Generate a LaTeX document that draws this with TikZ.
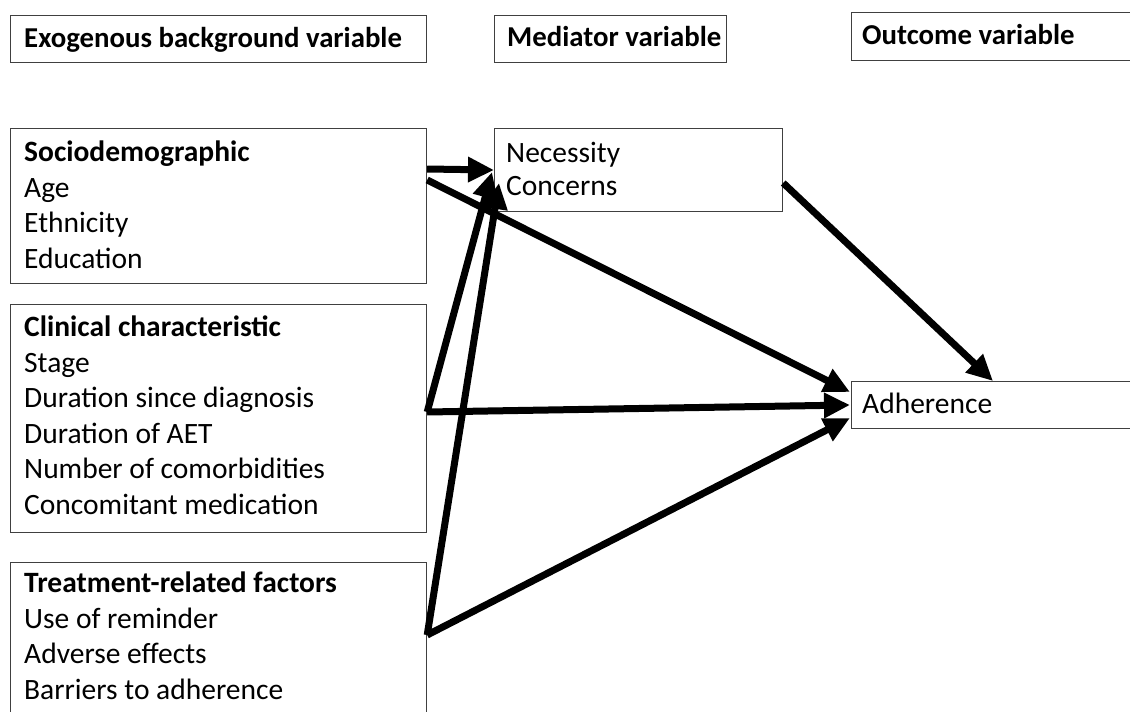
\documentclass[tikz,border=0pt]{standalone}
\usepackage{fontspec}
\setmainfont{Carlito}
\usetikzlibrary{arrows.meta}
\begin{document}
\begin{tikzpicture}[x=1pt,y=-1pt,
  box/.style={draw=black!75, line width=1.2pt, anchor=north west, inner sep=0pt},
  txt/.style={anchor=base west, inner sep=0pt, align=left, font=\fontsize{29.5}{35.5}\selectfont},
  btxt/.style={txt, font=\fontsize{28.8}{35.5}\selectfont\bfseries},
  arr/.style={line width=7pt, -{Triangle[length=26pt,width=24pt]}}]
\useasboundingbox (0,0) rectangle (1130,712);
\clip (0,0) rectangle (1130,712);
% header boxes
\node[box, minimum width=416pt, minimum height=47pt] (h1) at (10,15) {};
\node[box, minimum width=232pt, minimum height=47pt] (h2) at (494,15) {};
\node[box, minimum width=300pt, minimum height=48pt] (h3) at (851,12) {};
\node[btxt] (h1t) at (24,47) {Exogenous background variable};
\node[btxt] (h2t) at (507,46) {Mediator variable};
\node[btxt] (h3t) at (862,44) {Outcome variable};
% left boxes
\node[box, minimum width=416pt, minimum height=155pt] (socio) at (10,128) {};
\node[box, minimum width=416pt, minimum height=228pt] (clin) at (10,304) {};
\node[box, minimum width=416pt, minimum height=170pt] (treat) at (10,562) {};
\node[txt] (sociot) at (24,268) {\textbf{Sociodemographic}\\Age\\Ethnicity\\Education};
\node[txt] (clint) at (24,514) {\textbf{Clinical characteristic}\\Stage\\Duration since diagnosis\\Duration of AET\\Number of comorbidities\\Concomitant medication};
\node[txt] (treatt) at (24,699) {\textbf{Treatment-related factors}\\Use of reminder\\Adverse effects\\Barriers to adherence};
% mediator and outcome
\node[box, minimum width=288pt, minimum height=83pt] (necess) at (494,128) {};
\node[txt, font=\fontsize{29.5}{33}\selectfont] (necesst) at (506,195) {Necessity\\Concerns};
\node[box, minimum width=300pt, minimum height=47pt] (adher) at (851,381) {};
\node[txt] (adhert) at (862,413) {Adherence};
% arrows
\draw[arr] ([yshift=-41pt]socio.north east) -- ([yshift=-42pt]necess.north west);
\draw[arr] ([yshift=-52pt]socio.north east) -- ([xshift=-1pt,yshift=-11pt]adher.north west);
\draw[arr] ([yshift=-108pt]clin.north east) -- ([xshift=-2pt,yshift=-44pt]necess.north west);
\draw[arr] ([yshift=-108pt]clin.north east) -- ([xshift=-1pt,yshift=-24pt]adher.north west);
\draw[arr] ([yshift=-73pt]treat.north east) -- ([xshift=5pt,yshift=-55pt]necess.north west);
\draw[arr] ([yshift=-73pt]treat.north east) -- ([xshift=-1pt,yshift=-37pt]adher.north west);
\draw[arr] ([yshift=-55pt]necess.north east) -- ([xshift=142pt]adher.north west);
\end{tikzpicture}
\end{document}
